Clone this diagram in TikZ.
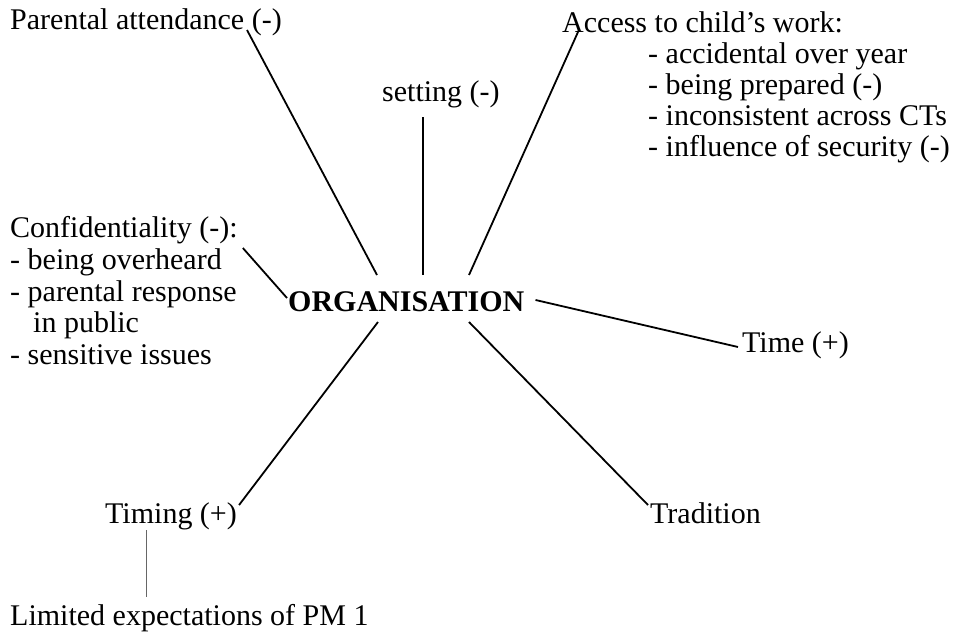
\documentclass[tikz,border=0pt]{standalone}
\usepackage{fontspec}
\setmainfont{Liberation Serif}
\usetikzlibrary{calc}
\begin{document}
\begin{tikzpicture}[x=1pt,y=-1pt,
  lbl/.style={inner sep=0pt,anchor=base west,font=\fontsize{30}{32}\selectfont},
  hub/.style={inner sep=0pt,anchor=base west,font=\fontsize{30}{32}\selectfont\bfseries},
  spoke/.style={line width=1.8pt,black},
  faint/.style={line width=0.8pt,black!60}]
\useasboundingbox (0,0) rectangle (959,636);
% hub
\node[hub] (org) at (288,312) {ORGANISATION};
% outer labels
\node[lbl] (pa) at (10,30) {Parental attendance (-)};
\node[lbl] (set) at (382,102) {setting (-)};
\node[lbl] (acc) at (562,33) {Access to child’s work:};
\node[lbl] (acc1) at (648,64) {- accidental over year};
\node[lbl] (acc2) at (648,95) {- being prepared (-)};
\node[lbl] (acc3) at (648,126) {- inconsistent across CTs};
\node[lbl] (acc4) at (648,157) {- influence of security (-)};
\node[lbl] (conf) at (10,238) {Confidentiality (-):};
\node[lbl] (conf1) at (10,270) {- being overheard};
\node[lbl] (conf2) at (10,302) {- parental response};
\node[lbl] (conf3) at (33,333) {in public};
\node[lbl] (conf4) at (10,365) {- sensitive issues};
\node[lbl] (time) at (742,353) {Time (+)};
\node[lbl] (trad) at (650,523) {Tradition};
\node[lbl] (timing) at (105,523) {Timing (+)};
\node[lbl] (lim) at (10,625) {Limited expectations of PM 1};
% connector ends
\coordinate (oPA) at ($(org.base west)+(89,-37)$);
\coordinate (oSet) at ($(org.base west)+(135,-37)$);
\coordinate (oAcc) at ($(org.base west)+(181,-37)$);
\coordinate (oTim) at ($(org.base west)+(90,10)$);
\coordinate (oTra) at ($(org.base west)+(181,10)$);
\coordinate (oConf) at ($(org.base west)+(-1,-14)$);
\coordinate (oTime) at ($(org.base east)+(11,-12)$);
\coordinate (ePA) at ($(pa.base west)+(237,0)$);
\coordinate (eSet) at ($(set.base west)+(41,15)$);
\coordinate (eAcc) at ($(acc.base west)+(16,-1)$);
\coordinate (eConf) at ($(conf.base east)+(5,10)$);
\coordinate (eTime) at ($(time.base west)+(-4,-6)$);
\coordinate (eTra) at ($(trad.base west)+(-2,-18)$);
\coordinate (eTim) at ($(timing.base east)+(2,-18)$);
\coordinate (tTop) at ($(timing.base west)+(41,7)$);
\coordinate (tBot) at ($(lim.base west)+(136,-28)$);
% connectors
\draw[spoke] (oPA) -- (ePA);
\draw[spoke] (oSet) -- (eSet);
\draw[spoke] (oAcc) -- (eAcc);
\draw[spoke] (oConf) -- (eConf);
\draw[spoke] (oTime) -- (eTime);
\draw[spoke] (oTra) -- (eTra);
\draw[spoke] (oTim) -- (eTim);
\draw[faint] (tTop) -- (tBot);
\end{tikzpicture}
\end{document}
